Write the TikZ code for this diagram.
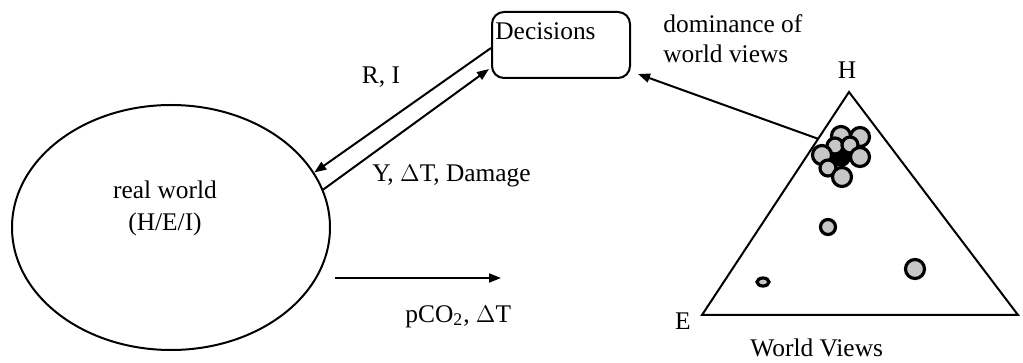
\documentclass[tikz,border=0pt]{standalone}
\usepackage{fontspec}
\setmainfont{Liberation Serif}
\usetikzlibrary{shapes.geometric,arrows.meta,calc}
\begin{document}
\begin{tikzpicture}[x=0.5pt,y=-0.5pt,
		font=\fontsize{12.7}{16}\selectfont,
		arr/.style={line width=1pt,-{Triangle[length=6pt,width=4.5pt]}},
		wv/.style={draw,line width=1.6pt,fill=black!22}]
	\useasboundingbox (0,0) rectangle (1023,363);
	
	% real world
	\node [draw,ellipse,line width=1pt,inner sep=0pt,minimum width=159pt,minimum height=122.5pt] (world) at (171,227.5) {};
	\node [align=center] (worldtxt) at (165,208) {real world\\(H/E/I)};
	
	% Decisions
	\node [draw,rounded corners=6pt,line width=1pt,minimum width=69pt,minimum height=33pt] (dec) at (561,45) {};
	\node [anchor=base west,inner sep=0pt] (dectxt) at (495,40) {Decisions};
	
	% World Views triangle
	\coordinate (tH) at (849,92);
	\coordinate (tE) at (702,315);
	\coordinate (tI) at (1018,315);
	\draw [line width=1pt] (tH) -- (tE) -- (tI) -- cycle;
	\node (lblH) at (847,70) {H};
	\node (lblE) at (683,321) {E};
	\node [anchor=base west,inner sep=0pt] (lblWV) at (750,357) {World Views};
	
	% world views
	\fill (841,157) circle (10);
	\foreach \cx/\cy/\r in {841/136/9.5,860/137/9.5,835/146/8,850/145/8,822/155/9.5,860/157/9.5,828/168/8,842/177/9.5,828/227/7.5,915/269/9.5}
		\draw [wv] (\cx,\cy) circle (\r);
	\draw [wv] (763,282) ellipse (6 and 4);
	
	% connectors
	\draw [arr] ($(dec.west)+(0,3)$) -- (world.21);
	\draw [arr] (world.14) -- ($(dec.south west)+(-2,-10)$);
	\coordinate (wvs) at ($(tH)!0.21!(tE)$);
	\draw [arr] (wvs) -- ($(dec.south east)+(7,-5)$);
	\coordinate (co2a) at (335,278);
	\coordinate (co2b) at (501,278);
	\draw [arr] (co2a) -- (co2b);
	
	% Text Node
	\node (lblRI) at (381,77) {R, I};
	\node [anchor=base west,inner sep=0pt] (lblY) at (372,182) {Y, $\Delta$T, Damage};
	\node [anchor=base west,inner sep=0pt] (lblCO2) at (405,322) {pCO\textsubscript{2}, $\Delta$T};
	\node [anchor=base west,inner sep=0pt,align=left,font=\fontsize{12.7}{15}\selectfont] (lblDom) at (663,63) {dominance of\\world views};
\end{tikzpicture}
\end{document}
